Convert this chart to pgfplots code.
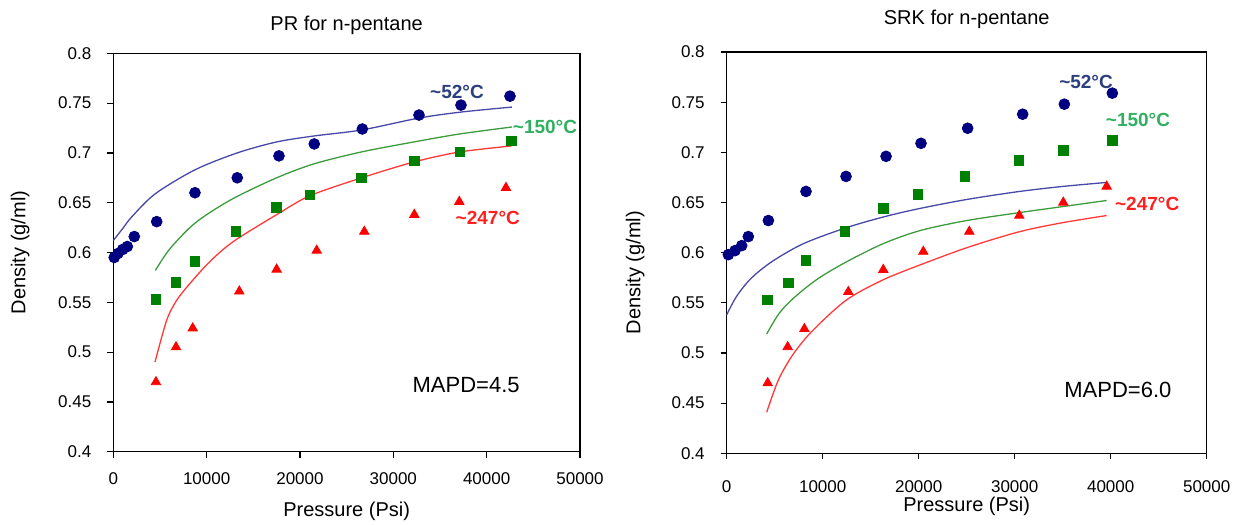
\documentclass[border=0pt]{standalone}
\usepackage{pgfplots}
\pgfplotsset{compat=1.18}
\usepackage{fontspec}
\setmainfont{Liberation Sans}
\definecolor{mblue}{HTML}{000080}
\definecolor{mgreen}{HTML}{008000}
\definecolor{mred}{HTML}{FF0000}
\definecolor{lblue}{HTML}{4848A8}
\definecolor{lgreen}{HTML}{3C9C3C}
\definecolor{lred}{HTML}{FF3838}
\definecolor{tblue}{HTML}{2B3F7F}
\definecolor{tgreen}{HTML}{30B060}
\definecolor{tred}{HTML}{FF2020}
\tikzset{tlab/.style={font=\fontsize{9.5}{11}\selectfont\bfseries, anchor=center}}
\pgfplotsset{
  myaxis/.style={
    scale only axis, clip=false,
    xmin=0, xmax=50000, ymin=0.4, ymax=0.8,
    xtick={0,10000,20000,30000,40000,50000},
    ytick={0.4,0.45,0.5,0.55,0.6,0.65,0.7,0.75,0.8},
    scaled x ticks=false,
    xticklabel style={/pgf/number format/fixed, /pgf/number format/set thousands separator={}},
    yticklabel style={/pgf/number format/fixed, /pgf/number format/precision=2},
    /pgf/number format/assume math mode=true,
    tick align=outside, tick pos=left,
    major tick length=3pt,
    axis line style={line width=0.75pt},
    every tick/.style={black, line width=0.6pt},
    tick label style={font=\fontsize{8.5}{10}\selectfont},
    label style={font=\fontsize{8.5}{10}\selectfont},
    title style={font=\fontsize{8}{10}\selectfont},
    every axis x label/.style={at={(axis description cs:0.5,0)}, anchor=center},
    every axis y label/.style={at={(axis description cs:0,0.5)}, anchor=center, rotate=90},
    every axis title/.style={at={(axis description cs:0.5,1)}, anchor=center},
  },
  bmark/.style={only marks, mark=*, mark size=2.7pt, color=mblue},
  gmark/.style={only marks, mark=square*, mark size=2.4pt, color=mgreen},
  rmark/.style={only marks, mark=triangle*, mark size=2.7pt, color=mred},
  bline/.style={no marks, smooth, color=lblue, line width=0.65pt},
  gline/.style={no marks, smooth, color=lgreen, line width=0.65pt},
  rline/.style={no marks, smooth, color=lred, line width=0.65pt},
}
\begin{document}
\begin{tikzpicture}
\useasboundingbox (0,0) rectangle (621.5pt,262.5pt);
% ---------------- PR ----------------
\begin{axis}[myaxis,
  at={(56.65pt,36.65pt)}, anchor=south west,
  width=233.35pt, height=199.2pt,
  title={PR for n-pentane},
  title style={yshift=14pt},
  xlabel={Pressure (Psi)}, xlabel style={yshift=-30pt},
  ylabel={Density (g/ml)}, ylabel style={yshift=46.5pt},
  xticklabel style={yshift=-4pt},
  yticklabel style={xshift=-4.5pt},
]
\addplot[bline] coordinates {(0,0.612) (1000,0.624) (2000,0.636) (4500,0.659) (8750,0.683) (13280,0.700) (17500,0.711) (21500,0.717) (26600,0.723) (32750,0.735) (37250,0.741) (42700,0.746)};
\addplot[gline] coordinates {(4500,0.582) (6000,0.603) (8200,0.625) (10000,0.638) (13000,0.655) (17500,0.675) (21500,0.689) (26600,0.701) (32200,0.711) (37100,0.719) (42700,0.726)};
\addplot[rline] coordinates {(4470,0.490) (5720,0.532) (6790,0.552) (8220,0.569) (10360,0.591) (12860,0.611) (17500,0.638) (21070,0.657) (26610,0.675) (32250,0.691) (37140,0.701) (42680,0.707)};
\addplot[bmark] coordinates {(100,0.595) (500,0.599) (1000,0.603) (1500,0.606) (2250,0.616) (4650,0.631) (8750,0.660) (13280,0.675) (17750,0.697) (21530,0.709) (26680,0.724) (32750,0.738) (37250,0.748) (42500,0.757)};
\addplot[gmark] coordinates {(4570,0.553) (6720,0.570) (8750,0.591) (13150,0.621) (17500,0.645) (21070,0.658) (26610,0.675) (32250,0.692) (37140,0.701) (42680,0.712)};
\addplot[rmark] coordinates {(4570,0.470) (6720,0.505) (8510,0.524) (13500,0.561) (17500,0.583) (21790,0.602) (26890,0.621) (32250,0.638) (37070,0.651) (42070,0.665)};
\node[tlab, text=tblue] at (axis cs:36820,0.761) {\char"007E 52°C};
\node[tlab, text=tgreen] at (axis cs:46250,0.726) {\char"007E 150°C};
\node[tlab, text=tred] at (axis cs:40120,0.635) {\char"007E 247°C};
\node[font=\fontsize{11}{13}\selectfont] at (axis cs:37800,0.467) {MAPD=4.5};
\end{axis}
% ---------------- SRK ----------------
\begin{axis}[myaxis,
  at={(363.35pt,35.85pt)}, anchor=south west,
  width=240pt, height=200.65pt,
  title={SRK for n-pentane},
  title style={yshift=16.5pt},
  xlabel={Pressure (Psi)}, xlabel style={yshift=-26.7pt},
  ylabel={Density (g/ml)}, ylabel style={at={(axis description cs:0,0.45)}, yshift=45.8pt},
  xticklabel style={yshift=-7pt},
  yticklabel style={xshift=-4.5pt},
]
\addplot[bline] coordinates {(0,0.538) (1000,0.556) (2500,0.574) (4700,0.591) (8000,0.609) (12500,0.625) (16500,0.636) (20100,0.644) (25000,0.653) (30500,0.661) (35000,0.666) (39600,0.670)};
\addplot[gline] coordinates {(4170,0.519) (5500,0.540) (7120,0.556) (9500,0.574) (12500,0.591) (16310,0.609) (20140,0.622) (25000,0.632) (30550,0.640) (35060,0.646) (39580,0.652)};
\addplot[rline] coordinates {(4170,0.441) (5380,0.473) (6940,0.499) (9020,0.523) (12500,0.553) (16310,0.573) (20480,0.589) (25340,0.606) (30550,0.621) (35060,0.630) (39580,0.637)};
\addplot[bmark] coordinates {(170,0.598) (865,0.602) (1560,0.607) (2250,0.616) (4340,0.632) (8260,0.661) (12430,0.676) (16600,0.696) (20240,0.709) (25100,0.724) (30830,0.738) (35170,0.748) (40170,0.759)};
\addplot[gmark] coordinates {(4270,0.553) (6420,0.570) (8260,0.592) (12320,0.621) (16310,0.644) (19900,0.658) (24820,0.676) (30450,0.692) (35060,0.702) (40170,0.712)};
\addplot[rmark] coordinates {(4270,0.470) (6350,0.506) (8090,0.524) (12670,0.561) (16310,0.583) (20480,0.601) (25270,0.621) (30480,0.637) (35060,0.650) (39580,0.666)};
\node[tlab, text=tblue] at (axis cs:37430,0.770) {\char"007E 52°C};
\node[tlab, text=tgreen] at (axis cs:42840,0.732) {\char"007E 150°C};
\node[tlab, text=tred] at (axis cs:43800,0.649) {\char"007E 247°C};
\node[font=\fontsize{11}{13}\selectfont] at (axis cs:40750,0.463) {MAPD=6.0};
\end{axis}
\end{tikzpicture}
\end{document}
